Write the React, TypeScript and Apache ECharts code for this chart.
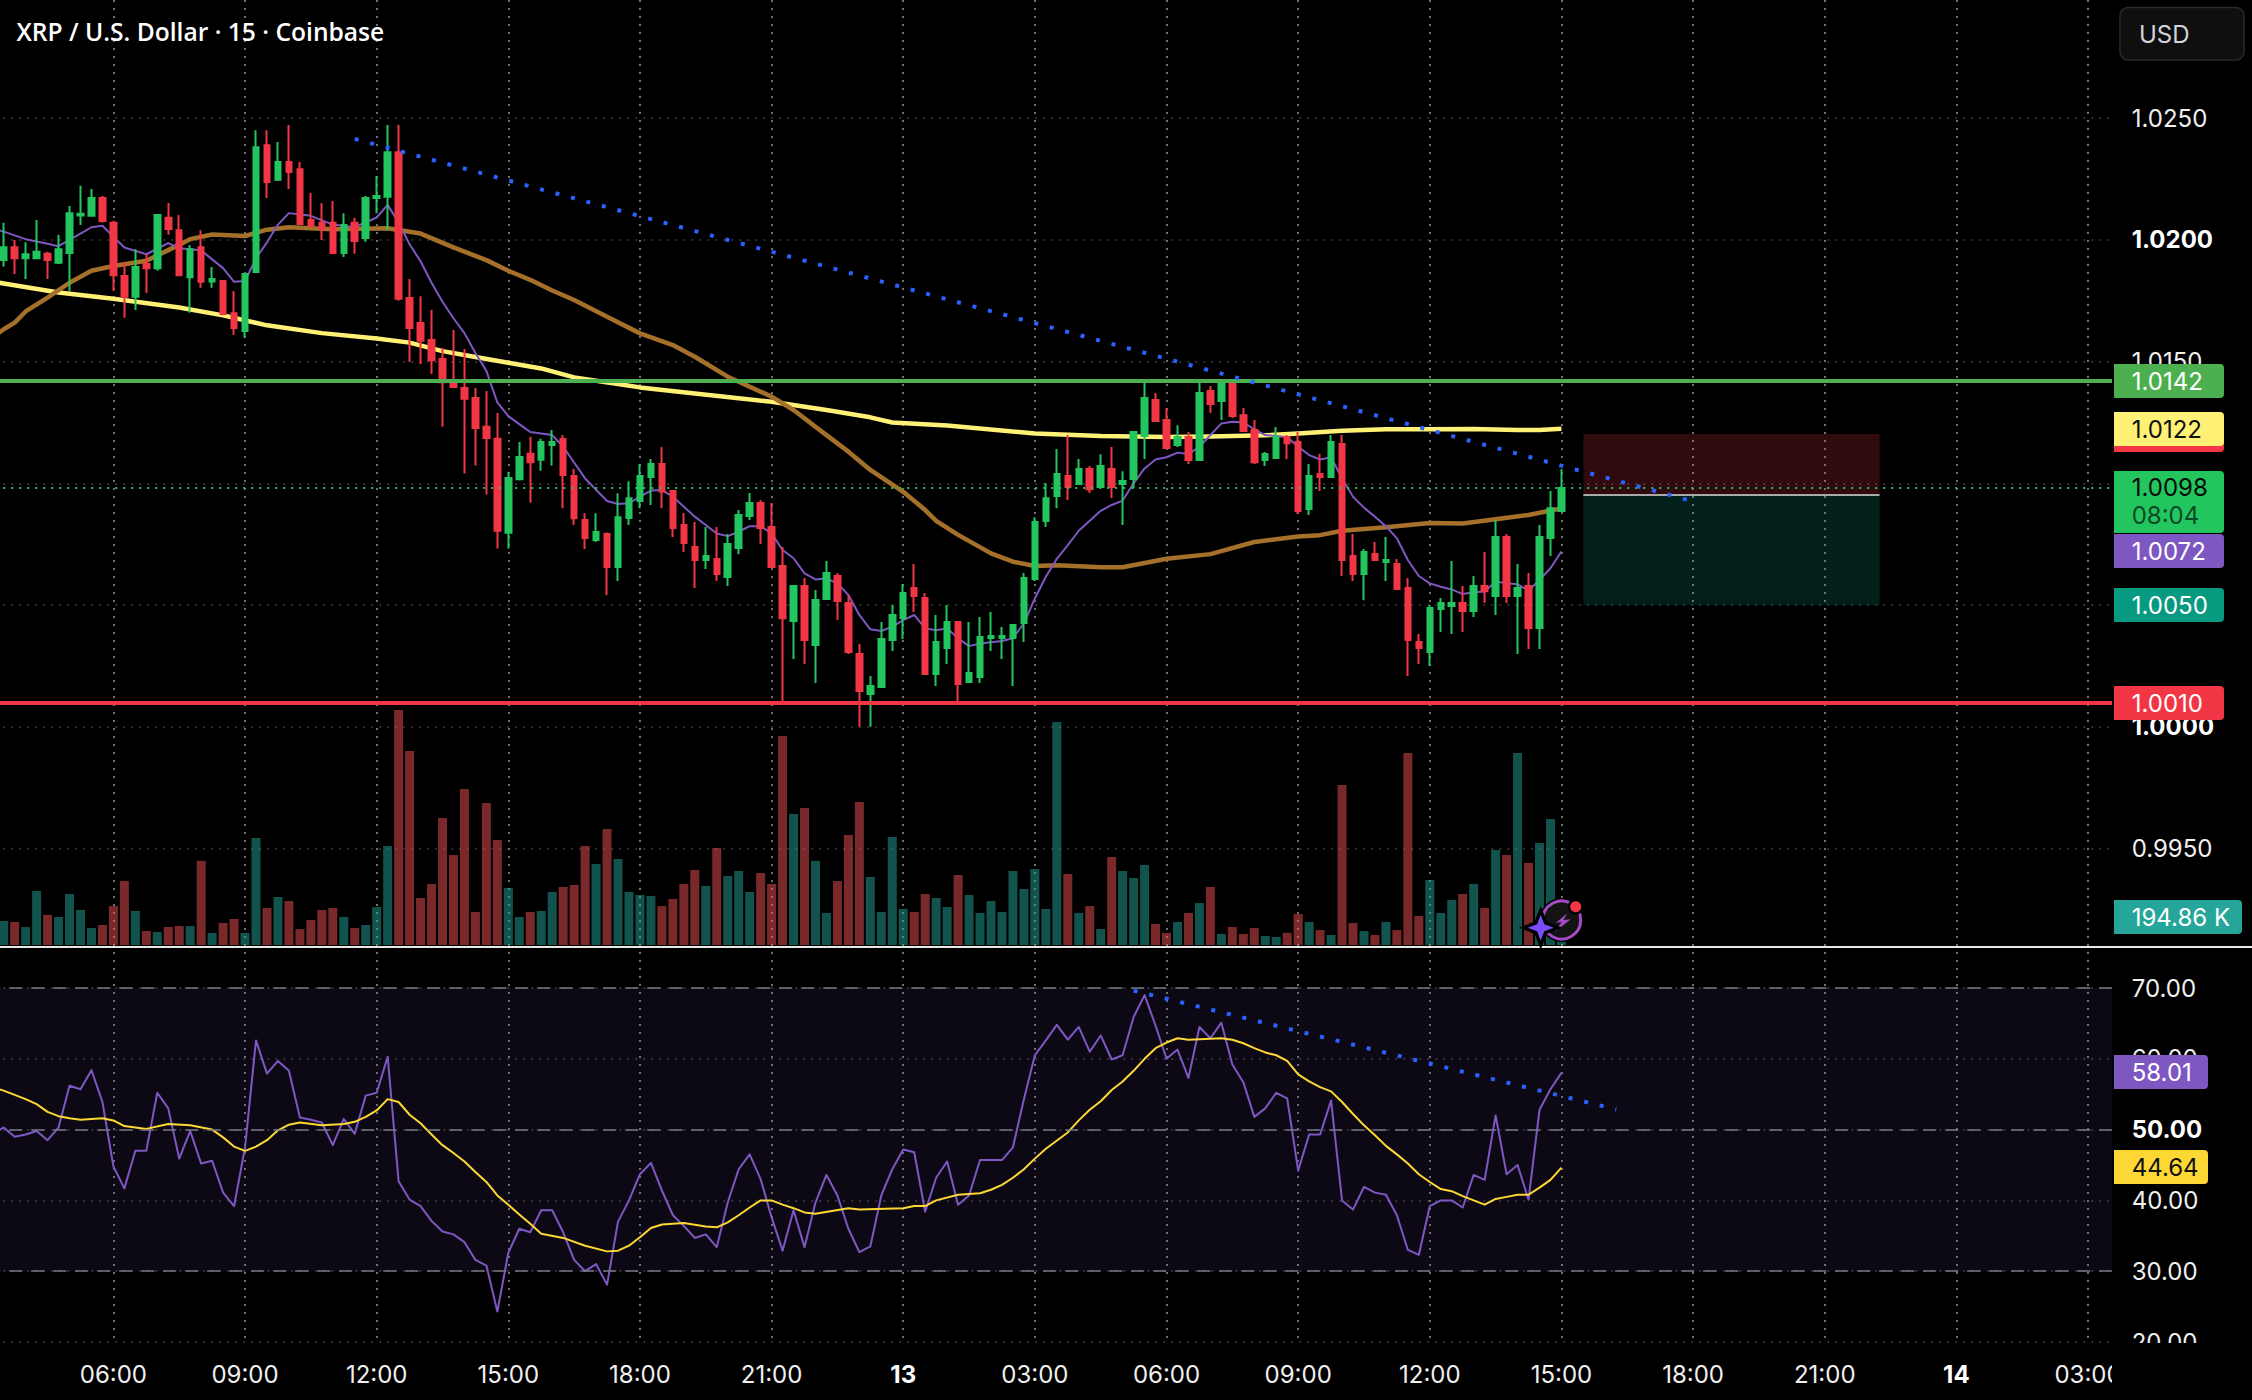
import React, { useEffect, useRef } from "react";
import * as echarts from "echarts";

// ---- data -------------------------------------------------------------
const firstBar = -11; // 03:15 on the 12th, counted in 15-minute bars from 06:00; only the lines reach this bar
const lastAxisBar = 182;
const priceTicks = { min: 0.99, max: 1.0298, step: 0.005 };
const rsiTicks = { min: 20, max: 80, step: 10 };

// open, close, low, high, in 1e-5 above 1.00000 (from bar -10)
const ohlcPips: number[][] = [
  [1917,1970,1891,2070],[1970,1925,1860,2000],[1925,1941,1839,1990],[1925,1951,1925,2082],[1943,1917,1839,1951],
  [1906,1962,1901,2021],[1946,2110,1790,2139],[2100,2107,2061,2222],[2099,2172,2099,2209],[2172,2078,2071,2180],
  [2070,1855,1790,2079],[1852,1766,1680,1909],[1766,1889,1712,1962],[1901,1884,1782,1941],[1884,2102,1873,2102],
  [2091,2045,2021,2152],[2040,1855,1852,2102],[1847,1962,1701,1979],[1970,1828,1803,2040],[1829,1839,1803,1889],
  [1831,1696,1690,1831],[1699,1638,1610,1790],[1626,1860,1599,1860],[1868,2381,1868,2451],[2389,2238,2172,2451],
  [2247,2320,2242,2402],[2320,2279,2209,2472],[2290,2065,2065,2320],[2082,2057,2057,2193],[2070,2045,2000,2152],
  [2070,1946,1943,2160],[1946,2061,1930,2110],[2070,1995,1943,2091],[2008,2172,1992,2180],[2172,2180,2110,2263],
  [2177,2360,2040,2472],[2360,1758,1750,2472],[1761,1638,1498,1839],[1659,1586,1490,1769],[1589,1506,1449,1712],
  [1511,1415,1232,1556],[1420,1396,1396,1630],[1392,1347,1040,1552],[1350,1227,1073,1392],[1232,1186,954,1379],
  [1183,805,732,1289],[797,1022,732,1047],[1017,1108,1011,1170],[1121,1087,920,1191],[1097,1170,1052,1183],
  [1157,1170,1073,1219],[1182,1034,897,1198],[1030,856,829,1059],[849,775,730,877],[767,800,759,877],
  [792,656,541,798],[656,861,599,959],[857,939,829,1008],[927,1030,898,1079],[1026,1079,911,1100],
  [1079,966,898,1149],[968,816,779,968],[829,755,718,878],[738,685,570,841],[685,701,648,820],
  [689,627,599,820],[615,751,578,792],[734,870,709,890],[866,919,849,960],[919,816,751,931],
  [820,656,656,919],[660,446,96,738],[434,578,278,578],[578,356,258,611],[336,521,180,562],
  [525,631,521,681],[619,516,438,631],[508,307,299,541],[299,147,0,340],[134,167,0,208],
  [163,360,163,430],[356,459,311,500],[446,549,360,586],[570,537,471,668],[529,217,217,549],
  [217,348,167,459],[323,430,258,500],[430,175,103,430],[184,221,180,430],[204,369,180,451],
  [364,373,311,471],[364,373,278,410],[364,418,167,418],[426,611,348,631],[607,841,599,861],
  [845,939,820,1001],[948,1038,898,1141],[1030,985,931,1198],[997,1059,997,1100],[1059,976,960,1071],
  [985,1071,979,1119],[1059,985,940,1149],[997,1009,829,1050],[1018,1211,979,1211],[1194,1350,1100,1413],
  [1342,1256,1256,1371],[1260,1145,1145,1309],[1157,1190,1149,1239],[1190,1096,1079,1211],[1096,1371,1092,1413],
  [1379,1326,1289,1400],[1338,1413,1260,1413],[1413,1276,1268,1420],[1280,1215,1211,1309],[1219,1087,1079,1260],
  [1096,1120,1071,1129],[1104,1190,1100,1231],[1190,1165,1100,1198],[1170,886,874,1211],[894,1030,870,1079],
  [1038,1026,968,1120],[1026,1170,1026,1198],[1161,685,619,1198],[701,627,599,792],[627,718,520,730],
  [710,685,681,759],[677,685,599,779],[668,566,566,689],[570,356,208,611],[348,323,258,381],
  [307,488,249,500],[484,508,389,529],[496,508,381,681],[508,475,389,578],[475,578,451,619],
  [578,557,508,718],[537,779,459,849],[779,537,508,792],[537,570,299,668],[578,405,319,631],
  [405,779,319,829],[775,898,701,968],[886,981,886,1059],
];

// from bar -10
const volumeK: number[] = [
  167,160,125,376,209,195,355,244,118,139,271,445,237,97,90,125,132,132,585,84,153,181,
  84,745,258,334,306,111,174,244,258,195,118,139,264,689,1636,1350,327,425,884,626,1086,230,988,731,
  397,195,230,237,369,404,418,689,564,807,599,369,348,341,271,320,425,522,411,675,480,515,369,501,
  425,1455,912,954,585,223,445,766,995,473,230,752,251,230,355,327,264,487,348,223,306,230,515,390,
  529,251,1552,494,223,271,111,612,515,466,557,146,84,160,223,292,404,77,125,77,118,63,56,84,
  216,160,104,70,1114,153,97,70,160,104,1336,202,452,223,313,355,425,258,661,626,1336,571,710,877,194.86,
];

// moving averages: [bar, value in 1e-5 above 1.00000]
const ma200Pips: number[][] = [
  [-11,1828],[-10,1821],[-5,1784],[0,1758],[6,1722],[10,1690],[14,1649],[19,1617],[24,1595],[27,1578],[30,1543],[33,1519],[36,1495],
  [39,1472],[42,1435],[46,1408],[48,1394],[53,1369],[60,1335],[65,1301],[69,1271],[71,1250],[76,1237],[84,1205],
  [90,1194],[96,1190],[100,1192],[105,1197],[108,1205],[112,1216],[116,1222],[120,1222],[124,1223],[128,1219],[130,1219],[132,1224],
];
const ma50Pips: number[][] = [
  [-11,1600],[-10,1633],[-9,1660],[-8,1706],[-6,1763],[-4,1824],[-2,1873],[0,1893],[3,1914],[5,1958],[7,2003],[9,2022],[12,2016],[14,2042],
  [16,2052],[20,2044],[25,2048],[28,2026],[31,1969],[34,1917],[36,1873],[38,1836],[40,1792],[42,1753],[45,1684],[48,1616],
  [51,1568],[53,1520],[56,1438],[60,1356],[62,1301],[65,1198],[67,1130],[69,1055],[72,965],[74,890],[75,846],[77,788],[80,712],
  [82,678],[84,660],[86,663],[90,655],[92,655],[96,690],[100,709],[104,759],[108,781],[110,787],[112,805],[116,819],[120,837],
  [123,835],[126,852],[129,870],[132,897],
];
const ema9Pips: number[][] = [
  [-11,2047],[-10,2034],[-8,2003],[-6,1984],[-5,1974],[-3,2026],[-2,2052],[-1,2058],[1,1969],[3,1941],[5,1987],[6,1966],[8,1957],[9,1920],
  [10,1884],[11,1828],[12,1831],[13,1925],[14,1990],[15,2063],[16,2110],[18,2099],[20,2063],[22,2052],[24,2092],[25,2144],[26,2071],
  [27,1982],[28,1912],[29,1824],[30,1746],[31,1678],[32,1617],[33,1535],[34,1462],[35,1332],[36,1276],[37,1243],[38,1211],[40,1198],
  [41,1150],[43,1020],[45,927],[46,915],[47,918],[48,945],[49,970],[50,972],[51,945],[53,863],[55,794],[56,783],[57,801],[58,824],
  [59,824],[60,794],[61,726],[62,692],[63,630],[64,605],[65,609],[66,589],[67,541],[68,459],[69,400],[70,393],[71,411],[72,438],
  [73,459],[74,404],[75,396],[76,404],[77,363],[78,331],[79,342],[81,352],[82,363],[83,425],[84,527],[85,616],[86,690],[87,746],
  [88,805],[90,887],[91,911],[92,929],[93,1000],[94,1061],[95,1098],[96,1107],[97,1126],[98,1120],[99,1150],[100,1198],[101,1246],
  [102,1253],[103,1250],[104,1222],[105,1198],[106,1194],[107,1189],[108,1150],[109,1116],[110,1098],[111,1107],[112,1020],[113,945],
  [114,900],[115,863],[116,824],[117,774],[118,685],[119,619],[120,589],[121,575],[122,564],[123,545],[124,552],[125,555],[126,596],
  [127,589],[128,585],[129,559],[130,603],[131,651],[132,720],
];

// from bar -11
const rsiValues: number[] = [
  49.4,50.3,49.0,49.3,49.8,48.5,50.3,56.2,55.7,58.4,53.9,44.8,41.7,47.0,47.0,55.2,53.0,45.9,49.8,45.2,45.6,41.1,39.2,47.5,62.6,57.9,
  59.7,58.3,51.7,51.4,51.0,47.8,51.5,49.4,54.8,55.2,60.3,42.7,40.1,39.2,37.1,35.6,35.2,34.1,31.6,30.8,24.3,32.6,36.0,35.5,38.6,
  38.6,35.5,31.6,30.0,31.0,28.1,37.0,40.0,43.7,45.3,41.4,37.9,36.4,34.7,35.2,33.4,39.7,44.4,46.5,43.0,37.6,32.9,38.6,33.4,39.7,
  43.6,40.7,36.0,32.7,33.5,40.7,44.4,47.2,46.8,38.4,43.2,45.5,39.4,40.7,45.7,45.7,45.7,47.5,54.3,60.5,62.6,64.8,62.7,64.5,61.0,
  63.3,59.9,60.5,65.9,69.0,64.7,60.0,61.3,57.3,64.5,62.9,65.1,59.2,56.7,51.8,53.0,55.2,54.4,44.2,49.3,49.3,54.1,40.0,38.7,41.9,
  41.1,40.8,37.9,33.0,32.3,39.2,40.0,40.0,39.0,43.6,42.9,52.0,43.7,45.0,40.1,52.8,55.7,58.01,
];
const rsiMa: number[][] = [
  [-11,56.0],[-10,55.5],[-8,54.3],[-7,53.6],[-6,52.5],[-5,51.9],[-4,51.6],[-3,51.4],[-1,51.6],[0,51.3],[1,50.5],[3,50.1],[5,50.8],[7,50.6],[9,50.0],
  [10,48.9],[11,47.6],[12,47.0],[13,47.6],[14,48.5],[15,49.9],[16,50.7],[17,51.0],[19,50.6],[21,50.8],[22,51.1],[23,51.8],[24,52.7],[25,54.3],
  [26,53.9],[27,52.1],[28,50.9],[29,49.3],[30,47.8],[31,46.7],[32,45.5],[33,44.0],[34,42.6],[35,40.7],[36,39.4],[37,38.0],[38,36.7],[39,35.3],
  [41,34.7],[43,33.6],[45,32.8],[46,32.9],[47,33.6],[48,34.8],[49,36.1],[50,36.6],[52,36.8],[54,36.3],[55,36.2],[56,36.9],[57,37.9],[58,39.0],
  [59,40.0],[60,40.0],[61,39.4],[62,38.9],[63,38.3],[64,38.1],[67,38.9],[68,38.7],[72,38.9],[73,39.2],[74,39.2],[75,40.0],[77,40.8],[79,41.0],
  [80,41.5],[81,42.2],[82,43.2],[83,44.4],[84,45.9],[85,47.3],[87,49.6],[88,51.3],[89,52.8],[90,54.0],[91,55.6],[92,56.8],[93,58.3],[94,60.0],
  [95,61.5],[96,62.3],[97,62.9],[98,62.7],[101,62.9],[102,62.7],[103,62.2],[104,61.5],[105,60.9],[106,60.5],[107,59.7],[108,57.8],[109,56.8],
  [110,56.0],[111,55.4],[112,53.9],[113,52.2],[114,50.6],[115,49.2],[116,47.7],[117,46.5],[118,45.2],[119,43.7],[120,42.6],[121,41.6],[122,41.3],
  [123,40.6],[124,40.0],[125,39.4],[126,40.2],[127,40.5],[128,40.8],[129,40.8],[130,41.8],[131,42.9],[132,44.64],
];

const priceTrend: number[][] = [[22,1.02415],[144,1.00926]];
const rsiTrend: number[][] = [[93,69.63],[137,52.84]];
const resistance = 1.0142;
const support = 1.00097;
const lastPrice = 1.00981;
const positionBars = [134, 161];
const positionLevels = { stop: 1.01203, entry: 1.00952, target: 1.005 };
const rsiBands = [70, 50, 30];
const boldPrices = ["1.0200", "1.0000"];
const boldRsi = ["50.00"];

const title = "XRP / U.S. Dollar · 15 · Coinbase";
const dayLabels: Record<number, string> = { 72: "13", 168: "14" };

// ---- styling ----------------------------------------------------------
const UI = "Inter";
const FS = 24;
const GREEN = "#22c55e";
const RED = "#f23645";
const BAND = 10.97;
const FIRST_CANDLE_X = 3.7; // bar -10
const LEFT = FIRST_CANDLE_X - BAND - BAND / 2;
const bandCount = lastAxisBar - firstBar + 1;
const PW = BAND * bandCount;

const idx = (bar: number) => bar - firstBar;
const pip = (v: number) => 1 + v / 100000;
const categories: string[] = [];
for (let n = firstBar; n <= lastAxisBar; n++) {
  const mins = (6 * 60 + n * 15 + 24 * 60 * 2) % (24 * 60);
  const hh = String(Math.floor(mins / 60)).padStart(2, "0");
  const mm = String(mins % 60).padStart(2, "0");
  categories.push(dayLabels[n] ?? `${hh}:${mm}`);
}
// the frame axis starts at bar -10
const showTick = (i: number) => (i - 10) % 12 === 0;

const tag = (
  y0: number, y1: number, x1: number, fill: string, text: string, color: string,
) => [
  { type: "rect", z: 70, silent: true, shape: { x: 2114, y: y0, width: x1 - 2114, height: y1 - y0, r: [0, 4, 4, 0] }, style: { fill } },
  { type: "text", z: 71, silent: true, style: { text, x: 2131.7, y: (y0 + y1) / 2, fill: color, fontFamily: UI, fontSize: FS, verticalAlign: "middle", align: "left" } },
];

const star = (cx: number, cy: number, R: number, r: number) => {
  const pts: number[][] = [];
  for (let k = 0; k < 8; k++) {
    const a = (k * Math.PI) / 4 - Math.PI / 2;
    const q = k % 2 === 0 ? R : r;
    pts.push([cx + q * Math.cos(a), cy + q * Math.sin(a)]);
  }
  return pts;
};

function buildOption() {
  const hiddenX = (gridIndex: number) => ({
    type: "category", gridIndex, data: categories, boundaryGap: true,
    axisLine: { show: false }, axisTick: { show: false }, axisLabel: { show: false }, splitLine: { show: false },
  });
  const hMajor = { show: true, lineStyle: { color: "#3f3f3f", width: 1.5, type: [2, 6] as number[] } };
  const priceFmt = (v: number) => {
    if (v < 0.992 || v > 1.028) return "";
    const s = v.toFixed(4);
    return boldPrices.includes(s) ? `{b|${s}}` : `{n|${s}}`;
  };
  const rsiFmt = (v: number) => {
    if (v > 75) return "";
    const s = v.toFixed(2);
    return boldRsi.includes(s) ? `{b|${s}}` : `{n|${s}}`;
  };
  const rich = {
    n: { fontFamily: UI, fontSize: FS, color: "#f0f0f0" },
    b: { fontFamily: UI, fontSize: FS, fontWeight: 700, color: "#ffffff" },
  };
  const labelsAxis = (gridIndex: number, t: any, fmt: any) => ({
    type: "value", gridIndex, position: "right", min: t.min, max: t.max, interval: t.step, z: 60,
    axisLine: { show: false }, axisTick: { show: false }, splitLine: { show: false },
    axisLabel: { show: true, margin: 2131.7 - (LEFT + PW), formatter: fmt, rich, hideOverlap: false },
  });
  const lineSeries = (name: string, data: number[][], color: string, width: number, xAxisIndex: number, yAxisIndex: number, z: number, extra: any = {}) => ({
    name, type: "line", xAxisIndex, yAxisIndex, data, z, showSymbol: false, symbol: "none", smooth: false, silent: true,
    lineStyle: { color, width, cap: "butt", join: "round", ...(extra.lineStyle || {}) },
  });
  const pipPairs = (rows: number[][]) => rows.map(([b, v]) => [idx(b), pip(v)]);
  const dotted = { lineStyle: { type: [4, 12] as number[] } };
  const grid = { outerBoundsMode: "none", containLabel: false };

  return {
    animation: false,
    backgroundColor: "#000000",
    grid: [
      { ...grid, left: LEFT, top: 1.37, width: PW, height: 968.73 },
      { ...grid, left: LEFT, top: 700.7, width: PW, height: 244.3 },
      { ...grid, left: LEFT, top: 917.2, width: PW, height: 424.8 },
      { ...grid, left: FIRST_CANDLE_X, top: 0, width: BAND * (bandCount - 2), height: 1342 },
    ],
    xAxis: [
      hiddenX(0), hiddenX(1), hiddenX(2),
      {
        type: "category", gridIndex: 3, data: categories.slice(1), boundaryGap: false,
        axisLine: { show: false }, axisTick: { show: false },
        splitLine: { show: true, interval: (i: number) => showTick(i), lineStyle: { color: "#707070", width: 2, type: [2, 6] as number[] } },
        axisLabel: {
          show: true, interval: (i: number) => showTick(i), margin: 32.5, verticalAlign: "middle", hideOverlap: false,
          formatter: (v: string) => (v.length === 2 ? `{b|${v}}` : `{n|${v}}`), rich,
        },
      },
    ],
    yAxis: [
      { type: "value", gridIndex: 0, min: priceTicks.min, max: priceTicks.max, interval: priceTicks.step, axisLine: { show: false }, axisTick: { show: false }, axisLabel: { show: false }, splitLine: { ...hMajor, showMinLine: false, showMaxLine: false } },
      labelsAxis(0, priceTicks, priceFmt),
      { type: "value", gridIndex: 1, min: 0, max: 1700, show: false, splitLine: { show: false } },
      { type: "value", gridIndex: 2, min: rsiTicks.min, max: rsiTicks.max, interval: rsiTicks.step, axisLine: { show: false }, axisTick: { show: false }, axisLabel: { show: false }, splitLine: { ...hMajor, showMaxLine: false } },
      labelsAxis(2, rsiTicks, rsiFmt),
      { type: "value", gridIndex: 3, min: 0, max: 1, show: false, splitLine: { show: false } },
    ],
    series: [
      {
        name: "Volume", type: "bar", xAxisIndex: 1, yAxisIndex: 2, barWidth: 9, silent: true, z: 1,
        data: [
          "-",
          ...volumeK.map((v, i) => ({
            value: v,
            itemStyle: { color: ohlcPips[i][1] >= ohlcPips[i][0] ? "rgba(38,166,154,0.5)" : "rgba(244,82,86,0.5)" },
          })),
        ],
      },
      // long/short position tool
      {
        name: "Position", type: "line", xAxisIndex: 0, yAxisIndex: 0, data: [], z: 1, silent: true,
        markArea: {
          silent: true,
          data: [
            [{ coord: [idx(positionBars[0]), positionLevels.stop], itemStyle: { color: "rgba(242,54,69,0.2)" } }, { coord: [idx(positionBars[1]), positionLevels.entry] }],
            [{ coord: [idx(positionBars[0]), positionLevels.entry], itemStyle: { color: "rgba(8,153,129,0.2)" } }, { coord: [idx(positionBars[1]), positionLevels.target] }],
          ],
        },
        markLine: {
          silent: true, symbol: "none", label: { show: false }, precision: 5,
          data: [[{ coord: [idx(positionBars[0]), positionLevels.entry], lineStyle: { color: "#a9a9a9", width: 2, type: "solid" } }, { coord: [idx(positionBars[1]), positionLevels.entry] }]],
        },
      },
      lineSeries("MA 200", pipPairs(ma200Pips), "#fff176", 4.5, 0, 0, 2),
      lineSeries("MA 50", pipPairs(ma50Pips), "#a5702a", 4.5, 0, 0, 2),
      lineSeries("EMA 9", pipPairs(ema9Pips), "#7e57c2", 2, 0, 0, 2),
      {
        name: "XRPUSD", type: "candlestick", xAxisIndex: 0, yAxisIndex: 0, z: 3, silent: true, barWidth: 6,
        data: [["-", "-", "-", "-"], ...ohlcPips.map((r) => r.map(pip))],
        itemStyle: { color: GREEN, color0: RED, borderColor: GREEN, borderColor0: RED, borderWidth: 2 },
      },
      {
        name: "Levels", type: "line", xAxisIndex: 0, yAxisIndex: 0, data: [], z: 4, silent: true,
        markLine: {
          silent: true, symbol: "none", label: { show: false }, precision: 5,
          data: [
            { yAxis: resistance, lineStyle: { color: "#4caf50", width: 4, type: "solid" } },
            { yAxis: support, lineStyle: { color: RED, width: 4, type: "solid" } },
            { yAxis: lastPrice, lineStyle: { color: GREEN, width: 2, type: [2, 6] } },
          ],
        },
      },
      lineSeries("Trend", priceTrend.map(([b, v]) => [idx(b), v]), "#2962ff", 4, 0, 0, 5, dotted),
      // RSI pane
      {
        ...lineSeries("RSI", rsiValues.map((v, i) => [i, v]), "#7e57c2", 2, 2, 3, 3),
        markArea: {
          silent: true, itemStyle: { color: "rgba(126,87,194,0.1)" },
          data: [[{ yAxis: rsiBands[0] }, { yAxis: rsiBands[2] }]],
        },
        markLine: {
          silent: true, symbol: "none", label: { show: false },
          lineStyle: { color: "#787b86", width: 1.5, type: [13, 9] },
          data: rsiBands.map((v) => ({ yAxis: v })),
        },
      },
      lineSeries("RSI MA", rsiMa.map(([b, v]) => [idx(b), v]), "#fdd835", 2, 2, 3, 4),
      lineSeries("RSI Trend", rsiTrend.map(([b, v]) => [idx(b), v]), "#2962ff", 4, 2, 3, 5, dotted),
    ],
    graphic: [
      // right scale background: hides whatever runs past the plot
      { type: "rect", z: 50, silent: true, shape: { x: 2112, y: 0, width: 140, height: 1400 }, style: { fill: "#000000" } },
      // "20.00" is cut by the pane's edge
      { type: "rect", z: 65, silent: true, shape: { x: 2112, y: 1343, width: 140, height: 57 }, style: { fill: "#000000" } },
      // pane separator
      { type: "rect", z: 66, silent: true, shape: { x: 0, y: 946, width: 2252, height: 2 }, style: { fill: "#e8e8e8" } },
      // title
      { type: "text", z: 72, silent: true, style: { text: title, x: 16.5, y: 31, fill: "#ffffff", fontFamily: "Open Sans", fontWeight: 600, fontSize: 24.6, verticalAlign: "middle" } },
      // currency button
      { type: "rect", z: 70, silent: true, shape: { x: 2120, y: 7.5, width: 124, height: 52.5, r: 8 }, style: { fill: "#0f0f0f", stroke: "#2a2a2a", lineWidth: 1.5 } },
      { type: "text", z: 71, silent: true, style: { text: "USD", x: 2139, y: 34, fill: "#d1d4dc", fontFamily: UI, fontSize: FS, verticalAlign: "middle" } },
      // last-value tags
      ...tag(364, 398, 2224, "#4caf50", "1.0142", "#ffffff"),
      { type: "rect", z: 69, silent: true, shape: { x: 2114, y: 432, width: 110, height: 20, r: [0, 4, 4, 0] }, style: { fill: RED } },
      ...tag(412, 446, 2224, "#fff176", "1.0122", "#111111"),
      { type: "rect", z: 70, silent: true, shape: { x: 2114, y: 471, width: 110, height: 62, r: [0, 4, 4, 0] }, style: { fill: GREEN } },
      { type: "text", z: 71, silent: true, style: { text: "1.0098", x: 2131.7, y: 487.7, fill: "#0a0a0a", fontFamily: UI, fontSize: FS, verticalAlign: "middle" } },
      { type: "text", z: 71, silent: true, style: { text: "08:04", x: 2131.7, y: 515.7, fill: "#0b4a24", fontFamily: UI, fontSize: FS, verticalAlign: "middle" } },
      ...tag(534, 568, 2224, "#7e57c2", "1.0072", "#ffffff"),
      ...tag(588, 622, 2224, "#089981", "1.0050", "#ffffff"),
      ...tag(686, 720, 2224, RED, "1.0010", "#ffffff"),
      ...tag(900, 934, 2242, "#26a69a", "194.86 K", "#ffffff"),
      ...tag(1055, 1089, 2208, "#7e57c2", "58.01", "#ffffff"),
      ...tag(1150, 1184, 2208, "#fdd835", "44.64", "#111111"),
      // assistant icon
      { type: "circle", z: 67, silent: true, shape: { cx: 1561.7, cy: 920, r: 22 }, style: { fill: "#000000" } },
      { type: "circle", z: 68, silent: true, shape: { cx: 1561.7, cy: 920, r: 19 }, style: { fill: "#131313", stroke: "#a64ac9", lineWidth: 3 } },
      { type: "polygon", z: 69, silent: true, shape: { points: [[1567.3, 913.3], [1556, 922.7], [1561.7, 922], [1555, 931.7], [1570.7, 919.3], [1563.3, 920]] }, style: { fill: "#a64ac9" } },
      { type: "polygon", z: 69, silent: true, shape: { points: star(1540.7, 927.7, 15, 6) }, style: { fill: "#000000", stroke: "#000000", lineWidth: 5 } },
      { type: "polygon", z: 69, silent: true, shape: { points: star(1540.7, 927.7, 13, 5) }, style: { fill: "#7c4dff" } },
      { type: "circle", z: 69, silent: true, shape: { cx: 1575.7, cy: 906.7, r: 8 }, style: { fill: "#000000" } },
      { type: "circle", z: 69, silent: true, shape: { cx: 1575.7, cy: 906.7, r: 5.5 }, style: { fill: RED } },
    ],
  };
}

export default function App() {
  const ref = useRef<HTMLDivElement | null>(null);
  useEffect(() => {
    document.body.style.margin = "0";
    document.body.style.background = "#000";
    const chart = echarts.init(ref.current as HTMLDivElement, undefined, { renderer: "svg" });
    chart.setOption(buildOption() as any);
    return () => chart.dispose();
  }, []);
  return <div ref={ref} style={{ width: 2252, height: 1400, background: "#000" }} />;
}
